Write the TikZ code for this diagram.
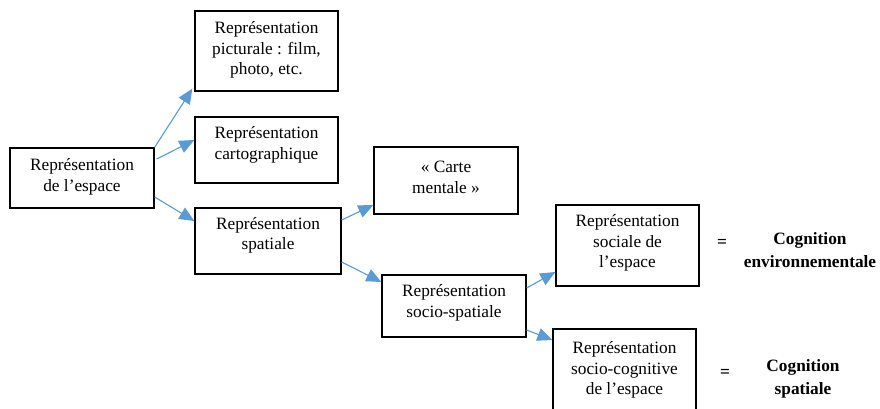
\documentclass[tikz,border=0pt]{standalone}
\usepackage{fontspec}
\setmainfont{Liberation Serif}
\usetikzlibrary{arrows.meta}
\definecolor{arrowblue}{HTML}{5B9BD5}
\begin{document}
\begin{tikzpicture}[x=1pt,y=-1pt,
  box/.style={draw=black, line width=1.3pt, inner sep=0pt},
  txt/.style={inner sep=0pt, align=center, font=\fontsize{17.3}{20.5}\selectfont},
  btxt/.style={inner sep=0pt, align=center, font=\fontsize{17.3}{23}\selectfont\bfseries},
  arr/.style={draw=arrowblue, line width=1.1pt, -{Triangle[length=15pt,width=13pt]}, fill=arrowblue}
]
\useasboundingbox (0,0) rectangle (880,409);
% boxes
\node[box, minimum width=144pt, minimum height=60pt] (b1) at (82,178) {};
\node[box, minimum width=143pt, minimum height=80pt] (b2) at (266.5,51) {};
\node[box, minimum width=143pt, minimum height=66pt] (b3) at (266.5,150) {};
\node[box, minimum width=146pt, minimum height=66pt] (b4) at (268,241) {};
\node[box, minimum width=144pt, minimum height=67pt] (b5) at (446,180.5) {};
\node[box, minimum width=143pt, minimum height=81pt] (b6) at (627.5,245.5) {};
\node[box, minimum width=144pt, minimum height=62pt] (b7) at (454,306) {};
\node[box, minimum width=143pt, minimum height=83pt] (b8) at (624.5,370.5) {};
% texts
\node[txt] (t1) at (82,177) {Représentation\\de l’espace};
\node[txt] (t2) at (266.5,50) {Représentation\\picturale : film,\\photo, etc.};
\node[txt] (t3) at (266.5,145) {Représentation\\cartographique};
\node[txt] (t4) at (268,235.5) {Représentation\\spatiale};
\node[txt] (t5) at (446,177.5) {« Carte\\mentale »};
\node[txt] (t6) at (627.5,243) {Représentation\\sociale de\\l’espace};
\node[txt] (t7) at (454,303) {Représentation\\socio-spatiale};
\node[txt] (t8) at (624.5,370) {Représentation\\socio-cognitive\\de l’espace};
\node[btxt] (eq1) at (722,243) {=};
\node[btxt] (c1) at (810,250.5) {Cognition\\environnementale};
\node[btxt] (eq2) at (725,373) {=};
\node[btxt] (c2) at (803,378.5) {Cognition\\spatiale};
% arrows
\draw[arr] (b1.north east) -- ([xshift=-2pt,yshift=3pt]b2.south west);
\draw[arr] ([xshift=2pt,yshift=19pt]b1.east) -- ([yshift=10pt]b3.west);
\draw[arr] ([yshift=-19pt]b1.east) -- ([yshift=20pt]b4.west);
\draw[arr] ([yshift=21pt]b4.east) -- ([yshift=-24.5pt]b5.west);
\draw[arr] ([yshift=-21pt]b4.east) -- ([yshift=24pt]b7.west);
\draw[arr] ([yshift=18pt]b7.east) -- ([yshift=-26.5pt]b6.west);
\draw[arr] ([yshift=-24pt]b7.east) -- ([yshift=30.5pt]b8.west);
\end{tikzpicture}
\end{document}
